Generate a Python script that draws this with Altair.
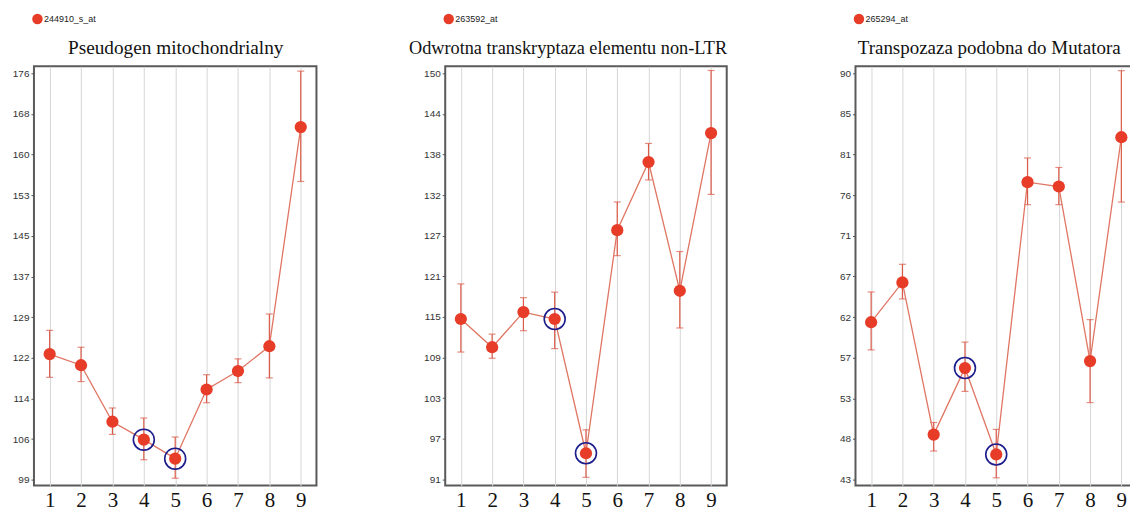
import altair as alt
import pandas as pd
import json

x_vals = [1, 2, 3, 4, 5, 6, 7, 8, 9]
marked_x = [4, 5]

titles = ["Pseudogen mitochondrialny",
          "Odwrotna transkryptaza elementu non-LTR",
          "Transpozaza podobna do Mutatora"]
probes = ["244910_s_at", "263592_at", "265294_at"]

p1_mean = [122.8, 120.7, 110.0, 106.6, 103.0, 116.1, 119.6, 124.3, 165.8]
p1_low = [118.4, 117.6, 107.6, 102.8, 99.3, 113.6, 117.4, 118.3, 155.5]
p1_high = [127.3, 124.1, 112.6, 110.7, 107.1, 118.9, 121.9, 130.4, 176.4]

p2_mean = [114.3, 110.2, 115.3, 114.3, 94.8, 127.2, 137.1, 118.4, 141.3]
p2_low = [109.5, 108.6, 112.6, 110.0, 91.3, 123.5, 134.5, 113.0, 132.4]
p2_high = [119.4, 112.1, 117.4, 118.2, 98.2, 131.3, 139.8, 124.1, 150.4]

p3_mean = [61.2, 65.8, 48.2, 55.9, 45.9, 77.4, 76.9, 56.7, 82.6]
p3_low = [58.0, 63.9, 46.3, 53.2, 43.2, 74.8, 74.8, 51.9, 75.1]
p3_high = [64.7, 67.9, 49.6, 58.9, 48.8, 80.2, 79.1, 61.5, 90.3]

p1_ticks = [99, 106.7, 114.4, 122.1, 129.8, 137.5, 145.2, 152.9, 160.6, 168.3, 176]
p1_labels = ["99", "106", "114", "122", "129", "137", "145", "153", "160", "168", "176"]
p2_ticks = [91, 96.9, 102.8, 108.7, 114.6, 120.5, 126.4, 132.3, 138.2, 144.1, 150]
p2_labels = ["91", "97", "103", "109", "115", "121", "127", "132", "138", "144", "150"]
p3_ticks = [43, 47.7, 52.4, 57.1, 61.8, 66.5, 71.2, 75.9, 80.6, 85.3, 90]
p3_labels = ["43", "48", "53", "57", "62", "67", "71", "76", "81", "85", "90"]

p1_domain = [97.9, 177.3]
p2_domain = [90.1, 151.0]
p3_domain = [42.3, 90.8]

RED = "#e63c28"
LINE = "#e07563"
ERR = "#dc5a48"
RING = "#1c1c8c"
PLOT_H = 420


def panel(title, probe, mean, low, high, ticks, labels, domain, width, t_size, t_x):
    df = pd.DataFrame({"x": x_vals, "mean": mean, "low": low, "high": high,
                       "probe": [probe] * len(x_vals)})
    df["marked"] = df["x"].isin(marked_x)
    label_expr = f"{json.dumps(labels)}[indexof({json.dumps(ticks)}, datum.value)]"
    xs = alt.X("x:Q", scale=alt.Scale(domain=[0.5, 9.5], nice=False, zero=False),
               axis=alt.Axis(values=x_vals, title=None, grid=True, gridColor="#d6d6d6",
                             gridWidth=1, ticks=False, domain=False,
                             labelFont="Liberation Serif", labelFontSize=21,
                             labelColor="#111111", labelPadding=4, labelFlush=False))
    ys = alt.Y("mean:Q", scale=alt.Scale(domain=domain, nice=False, zero=False),
               axis=alt.Axis(values=ticks, labelExpr=label_expr, title=None, grid=False,
                             domain=False, tickSize=3, tickColor="#555555",
                             labelFont="Liberation Sans", labelFontSize=10,
                             labelColor="#333333", labelPadding=2,
                             minExtent=25, maxExtent=25))
    base = alt.Chart(df)
    err = base.mark_rule(color=ERR, strokeWidth=1.2).encode(x=xs, y=ys, y2="high:Q")
    err_lo = base.mark_rule(color=ERR, strokeWidth=1.2).encode(x=xs, y=alt.Y("low:Q"), y2="mean:Q")
    cap_hi = base.mark_tick(color=ERR, orient="horizontal", size=7, thickness=1.2).encode(
        x=xs, y=alt.Y("high:Q"))
    cap_lo = base.mark_tick(color=ERR, orient="horizontal", size=7, thickness=1.2).encode(
        x=xs, y=alt.Y("low:Q"))
    line = base.mark_line(color=LINE, strokeWidth=1.3).encode(x=xs, y=ys)
    pts = base.mark_circle(size=150, opacity=1).encode(
        x=xs, y=ys,
        color=alt.Color("probe:N", scale=alt.Scale(range=[RED]),
                        legend=alt.Legend(title=None, orient="none", legendX=-2, legendY=-53,
                                          symbolType="circle", symbolSize=110,
                                          symbolStrokeWidth=0, symbolOpacity=1,
                                          labelFont="Liberation Sans", labelFontSize=9,
                                          labelColor="#222222", labelOffset=1)))
    rings = base.transform_filter("datum.marked").mark_point(
        shape="circle", size=440, filled=False, color=RING, strokeWidth=1.6, opacity=1
    ).encode(x=xs, y=ys)
    ttl = alt.Chart(pd.DataFrame({"t": [title]})).mark_text(
        font="Liberation Serif", fontSize=t_size, color="#111111", align="center",
        baseline="alphabetic"
    ).encode(text="t:N", x=alt.value(t_x), y=alt.value(-12))
    return alt.layer(err, err_lo, cap_hi, cap_lo, line, pts, rings, ttl).properties(
        width=width, height=PLOT_H)


c1 = panel(titles[0], probes[0], p1_mean, p1_low, p1_high, p1_ticks, p1_labels, p1_domain,
           283, 19.3, 142)
c2 = panel(titles[1], probes[1], p2_mean, p2_low, p2_high, p2_ticks, p2_labels, p2_domain,
           282, 18.3, 123)
c3 = panel(titles[2], probes[2], p3_mean, p3_low, p3_high, p3_ticks, p3_labels, p3_domain,
           282, 19.0, 134)

chart = alt.hconcat(c1, c2, c3, spacing=129, bounds="flush").resolve_scale(
    color="independent", y="independent").resolve_legend(color="independent").properties(
    padding={"left": 0, "top": 4, "right": -8, "bottom": 0}
).configure(background="white", view=alt.ViewConfig(stroke="#5a5a5a", strokeWidth=2))

chart.save("out.html", embed_options={"renderer": "svg", "actions": False})
